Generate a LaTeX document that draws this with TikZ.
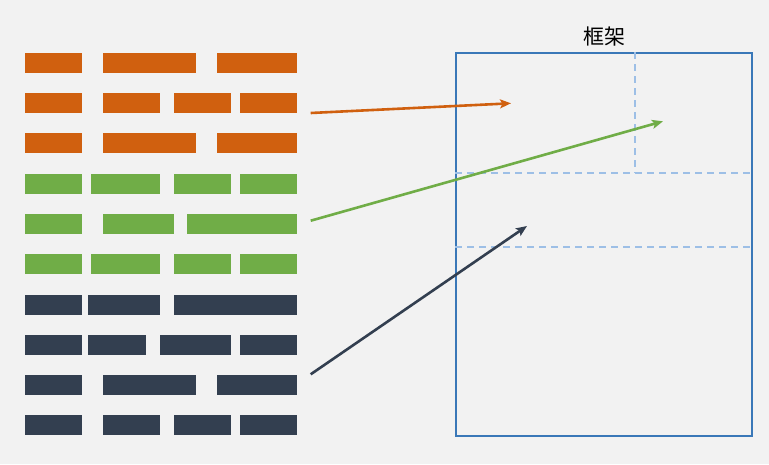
\documentclass[tikz,border=0pt]{standalone}
\usepackage{fontspec}
\newfontfamily\cjk{Noto Sans CJK SC}
\usetikzlibrary{arrows.meta}

\definecolor{backgray}{HTML}{F2F2F2}
\definecolor{barorange}{HTML}{D0600F}
\definecolor{bargreen}{HTML}{70AD47}
\definecolor{bardark}{HTML}{333F50}
\definecolor{frameblue}{HTML}{3A78B8}
\definecolor{guideblue}{HTML}{9DBFE6}

\tikzset{
  bar/.style={fill=#1, minimum height=20pt, inner sep=0pt, anchor=west},
  guide/.style={draw=guideblue, dash pattern=on 7pt off 5pt, line width=1.8pt},
  link/.style={draw=#1, line width=2.6pt, -{Stealth[length=11pt,width=9pt,inset=2.5pt]}},
}

\begin{document}
\begin{tikzpicture}[x=1pt,y=-1pt]
    \fill[backgray] (0,0) rectangle (769,464);
    \useasboundingbox (0,0) rectangle (769,464);

    % Orange rows
    \foreach \a/\b [count=\i] in {24.3/81.7,103/195.3,217/297}
        \node[bar=barorange, minimum width=\b-\a] (o1-\i) at (\a,62.5) {};
    \foreach \a/\b [count=\i] in {24.3/81.7,103/160,173.3/230.3,240/297}
        \node[bar=barorange, minimum width=\b-\a] (o2-\i) at (\a,102.7) {};
    \foreach \a/\b [count=\i] in {24.3/81.7,103/195.3,217/297}
        \node[bar=barorange, minimum width=\b-\a] (o3-\i) at (\a,143.3) {};

    % Green rows
    \foreach \a/\b [count=\i] in {24.3/81.7,91/160,173.3/230.3,240/297}
        \node[bar=bargreen, minimum width=\b-\a] (g1-\i) at (\a,183.5) {};
    \foreach \a/\b [count=\i] in {24.3/81.7,103/173.3,186.7/297}
        \node[bar=bargreen, minimum width=\b-\a] (g2-\i) at (\a,223.7) {};
    \foreach \a/\b [count=\i] in {24.3/81.7,91/160,173.3/230.3,240/297}
        \node[bar=bargreen, minimum width=\b-\a] (g3-\i) at (\a,264.3) {};

    % Dark rows
    \foreach \a/\b [count=\i] in {24.3/81.7,88/160,173.3/297}
        \node[bar=bardark, minimum width=\b-\a] (d1-\i) at (\a,304.5) {};
    \foreach \a/\b [count=\i] in {24.3/81.7,88/145.7,160/230.3,240/297}
        \node[bar=bardark, minimum width=\b-\a] (d2-\i) at (\a,345) {};
    \foreach \a/\b [count=\i] in {24.3/81.7,103/195.3,217/297}
        \node[bar=bardark, minimum width=\b-\a] (d3-\i) at (\a,385.3) {};
    \foreach \a/\b [count=\i] in {24.3/81.7,103/160,173.3/230.3,240/297}
        \node[bar=bardark, minimum width=\b-\a] (d4-\i) at (\a,425.3) {};

    % Frame
    \node[draw=frameblue, line width=2pt, inner sep=0pt, anchor=north west,
          minimum width=296pt, minimum height=383pt] (frame) at (455,52.3) {};
    \node[font=\cjk\fontsize{21}{21}\selectfont] (title) at ([yshift=16pt]frame.north) {框架};

    % Guides
    \draw[guide] (635,0 |- frame.north) -- (635,173.3);
    \draw[guide] (frame.west |- 0,173.3) -- (frame.east |- 0,173.3);
    \draw[guide] (frame.west |- 0,247.3) -- (frame.east |- 0,247.3);

    % Arrows
    \coordinate (o-start) at (310.7,113);
    \coordinate (o-end) at (511,103.3);
    \coordinate (g-start) at (310.7,220.7);
    \coordinate (g-end) at (663,121.3);
    \coordinate (d-start) at (310.7,374.3);
    \coordinate (d-end) at (527,226);
    \draw[link=barorange] (o-start) -- (o-end);
    \draw[link=bargreen] (g-start) -- (g-end);
    \draw[link=bardark] (d-start) -- (d-end);
\end{tikzpicture}
\end{document}
